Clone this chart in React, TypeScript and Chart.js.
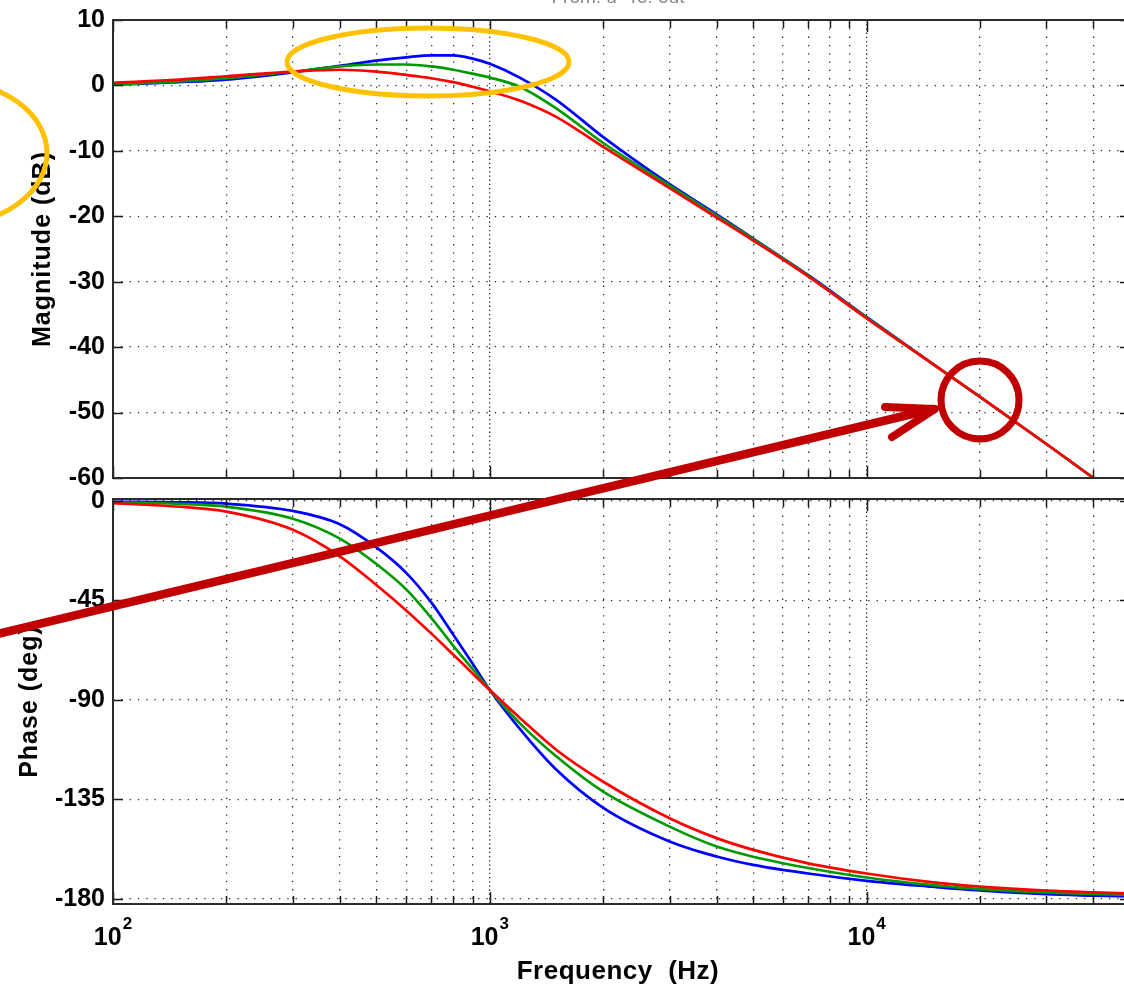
import React, { useEffect, useRef } from 'react';
import { Chart, registerables } from 'chart.js';

Chart.register(...registerables);

// ---------- data ----------
const freqHz = [100, 150, 200, 300, 400, 500, 600, 700, 800, 900, 1000, 1200, 1500, 2000, 3000, 4000, 5000, 7000, 10000, 15000, 20000, 30000, 40000, 50000];

const magBlue = [0.1, 0.5, 0.9, 2.0, 3.0, 3.8, 4.3, 4.6, 4.6, 4.1, 3.3, 1.2, -2.2, -7.9, -15.1, -19.7, -23.4, -29.0, -35.4, -42.6, -47.6, -54.8, -60.0, -63.9];
const magGreen = [0.15, 0.6, 1.1, 2.1, 2.9, 3.2, 3.2, 2.9, 2.4, 1.8, 1.2, -0.2, -3.5, -8.8, -15.3, -19.9, -23.5, -29.1, -35.5, -42.6, -47.6, -54.8, -60.0, -63.9];
const magRed = [0.4, 0.9, 1.4, 2.1, 2.4, 2.1, 1.6, 1.1, 0.5, -0.2, -0.9, -2.3, -4.8, -9.4, -15.7, -20.2, -23.7, -29.2, -35.6, -42.6, -47.6, -54.8, -60.0, -63.9];

const phaseBlue = [-0.4, -0.6, -1.2, -4.5, -10.5, -21, -32.5, -46, -60.5, -73.5, -85.5, -103, -121.5, -138.8, -154, -160.8, -164.6, -168.5, -171.8, -174.5, -176.2, -177.9, -178.5, -178.9];
const phaseGreen = [-0.6, -1.3, -2.6, -8, -17, -28.5, -40, -53, -65.5, -76, -85.5, -100.5, -115.5, -131.5, -147.3, -156.3, -160.9, -166, -170.3, -173.8, -175.6, -177.1, -177.7, -178.2];
const phaseRed = [-1.0, -2.6, -4.8, -13, -25, -38, -49.5, -60, -69.5, -78, -85.5, -98, -112.5, -127, -143.5, -152.5, -157.8, -163.9, -168.5, -172.5, -174.4, -176.2, -177, -177.5];

const magTicks = [10, 0, -10, -20, -30, -40, -50, -60];
const phaseTicks = [0, -45, -90, -135, -180];
const xGridValues = [100, 200, 300, 400, 500, 600, 700, 800, 900, 1000, 2000, 3000, 4000, 5000, 6000, 7000, 8000, 9000, 10000, 20000, 30000, 40000, 50000];
const decadeValues = [100, 1000, 10000];
const decadeExponents = ['2', '3', '4'];

const seriesColors = ['#0000ff', '#009a00', '#ff0000'];

const FONT = "'Liberation Sans', Arial, Helvetica, sans-serif";

type PanelCfg = {
  yMin: number;
  yMax: number;
  yTicks: number[];
  series: number[][];
  padTop: number;
  xAxisHeight: number;
  yTitle: string;
  yTitleX: number;
  bottomLabels: boolean;
  canvasTop: number;
  title?: string;
};

function makeChart(canvas: HTMLCanvasElement, cfg: PanelCfg) {
  const off = cfg.canvasTop;
  const framePlugin = {
    id: 'bodeFrame',
    afterDraw(chart: any) {
      const { ctx, chartArea: a, scales } = chart;
      const x = scales.x;
      const y = scales.y;
      ctx.save();
      // inward tick marks
      ctx.strokeStyle = '#1a1a1a';
      ctx.lineWidth = 1.5;
      ctx.beginPath();
      for (const v of xGridValues) {
        const px = Math.round(x.getPixelForValue(v)) + 0.5;
        const len = decadeValues.includes(v) ? 12 : 8;
        ctx.moveTo(px, a.top);
        ctx.lineTo(px, a.top + len);
        ctx.moveTo(px, a.bottom);
        ctx.lineTo(px, a.bottom - len);
      }
      for (const v of cfg.yTicks) {
        const py = Math.round(y.getPixelForValue(v)) + 0.5;
        ctx.moveTo(a.left, py);
        ctx.lineTo(a.left + 10, py);
        ctx.moveTo(a.right, py);
        ctx.lineTo(a.right - 10, py);
      }
      ctx.stroke();
      // frame
      ctx.strokeStyle = '#2b2b2b';
      ctx.lineWidth = 2;
      ctx.strokeRect(a.left, a.top, a.right - a.left, a.bottom - a.top);

      // y axis title
      ctx.fillStyle = '#000';
      ctx.font = `bold 25px ${FONT}`;
      (ctx as any).letterSpacing = '1px';
      ctx.textAlign = 'center';
      ctx.textBaseline = 'middle';
      ctx.save();
      ctx.translate(cfg.yTitleX, (a.top + a.bottom) / 2);
      ctx.rotate(-Math.PI / 2);
      ctx.fillText(cfg.yTitle, 0, 0);
      ctx.restore();
      (ctx as any).letterSpacing = '0px';

      if (cfg.title) {
        ctx.fillStyle = '#8a8a8a';
        ctx.font = `19px ${FONT}`;
        ctx.textBaseline = 'alphabetic';
        ctx.fillText(cfg.title, 618, 3 - off);
      }

      if (cfg.bottomLabels) {
        ctx.fillStyle = '#000';
        ctx.textBaseline = 'alphabetic';
        ctx.textAlign = 'left';
        decadeValues.forEach((v, i) => {
          const px = x.getPixelForValue(v);
          ctx.font = `bold 25px ${FONT}`;
          const wBase = ctx.measureText('10').width;
          ctx.font = `bold 17px ${FONT}`;
          const wSup = ctx.measureText(decadeExponents[i]).width;
          const start = px - (wBase + 1 + wSup) / 2;
          ctx.font = `bold 25px ${FONT}`;
          ctx.fillText('10', start, 945 - off);
          ctx.font = `bold 17px ${FONT}`;
          ctx.fillText(decadeExponents[i], start + wBase + 1, 929 - off);
        });
        ctx.textAlign = 'center';
        ctx.textBaseline = 'middle';
        ctx.font = `bold 26px ${FONT}`;
        (ctx as any).letterSpacing = '0.5px';
        ctx.fillText('Frequency  (Hz)', 618, 972 - off);
        (ctx as any).letterSpacing = '0px';
      }
      ctx.restore();
    },
  };

  return new Chart(canvas, {
    type: 'line',
    data: {
      datasets: cfg.series.map((vals, i) => ({
        data: freqHz.map((f, j) => ({ x: f, y: vals[j] })),
        borderColor: seriesColors[i],
        borderWidth: 2.7,
        pointRadius: 0,
        fill: false,
        cubicInterpolationMode: 'monotone' as const,
        order: 3 - i,
      })),
    },
    options: {
      animation: false,
      responsive: false,
      events: [],
      layout: { padding: { top: cfg.padTop, right: 10, left: 0, bottom: 0 } },
      plugins: { legend: { display: false }, tooltip: { enabled: false }, title: { display: false } },
      scales: {
        x: {
          type: 'logarithmic',
          min: 100,
          max: 50000,
          afterBuildTicks: (s: any) => {
            s.ticks = xGridValues.map((v) => ({ value: v, major: decadeValues.includes(v) }));
          },
          afterFit: (s: any) => {
            s.height = cfg.xAxisHeight;
          },
          ticks: { display: false },
          grid: { color: '#2a2a2a', lineWidth: 1.3, drawTicks: false },
          border: {
            display: false,
            dash: (c: any) => (c.tick && decadeValues.includes(c.tick.value) ? [1.3, 2.9] : [1.3, 7]),
          },
        },
        y: {
          type: 'linear',
          min: cfg.yMin,
          max: cfg.yMax,
          afterBuildTicks: (s: any) => {
            s.ticks = cfg.yTicks.map((v) => ({ value: v }));
          },
          afterFit: (s: any) => {
            s.width = 113;
          },
          ticks: {
            color: '#000',
            padding: 8,
            autoSkip: false,
            font: { family: FONT, size: 25, weight: 'bold' },
          },
          grid: { color: '#2a2a2a', lineWidth: 1.3, drawTicks: false },
          border: { display: false, dash: [1.3, 7] },
        },
      },
    } as any,
    plugins: [framePlugin],
  });
}

const TOP_CANVAS_Y = -4;
const BOTTOM_CANVAS_Y = 475;

export default function App() {
  const topRef = useRef<HTMLCanvasElement>(null);
  const botRef = useRef<HTMLCanvasElement>(null);

  useEffect(() => {
    const top = makeChart(topRef.current!, {
      yMin: -60,
      yMax: 10,
      yTicks: magTicks,
      series: [magBlue, magGreen, magRed],
      padTop: 24,
      xAxisHeight: 24,
      yTitle: 'Magnitude (dB)',
      yTitleX: 43,
      bottomLabels: false,
      canvasTop: TOP_CANVAS_Y,
      title: 'From: u  To: out',
    });
    const bot = makeChart(botRef.current!, {
      yMin: -182.3,
      yMax: 0.9,
      yTicks: phaseTicks,
      series: [phaseBlue, phaseGreen, phaseRed],
      padTop: 24,
      xAxisHeight: 84,
      yTitle: 'Phase (deg)',
      yTitleX: 30,
      bottomLabels: true,
      canvasTop: BOTTOM_CANVAS_Y,
    });
    return () => {
      top.destroy();
      bot.destroy();
    };
  }, []);

  return (
    <div style={{ position: 'absolute', left: 0, top: 0, width: 1124, height: 988, overflow: 'hidden', background: '#fff' }}>
      <canvas ref={topRef} width={1140} height={506} style={{ position: 'absolute', left: 0, top: TOP_CANVAS_Y }} />
      <canvas ref={botRef} width={1140} height={513} style={{ position: 'absolute', left: 0, top: BOTTOM_CANVAS_Y }} />
      <svg width={1124} height={988} style={{ position: 'absolute', left: 0, top: 0, pointerEvents: 'none' }}>
        <ellipse cx={428} cy={62} rx={141} ry={34} fill="none" stroke="#FFC000" strokeWidth={5} />
        <ellipse cx={-53} cy={153} rx={100} ry={72} fill="none" stroke="#FFC000" strokeWidth={5} />
        <circle cx={980} cy={400} r={39} fill="none" stroke="#C00000" strokeWidth={7} />
        <line x1={-10} y1={635.8} x2={933} y2={409} stroke="#C00000" strokeWidth={8.5} strokeLinecap="round" />
        <polyline points="885,407 935,409 892,437" fill="none" stroke="#C00000" strokeWidth={8} strokeLinecap="round" strokeLinejoin="round" />
      </svg>
    </div>
  );
}
